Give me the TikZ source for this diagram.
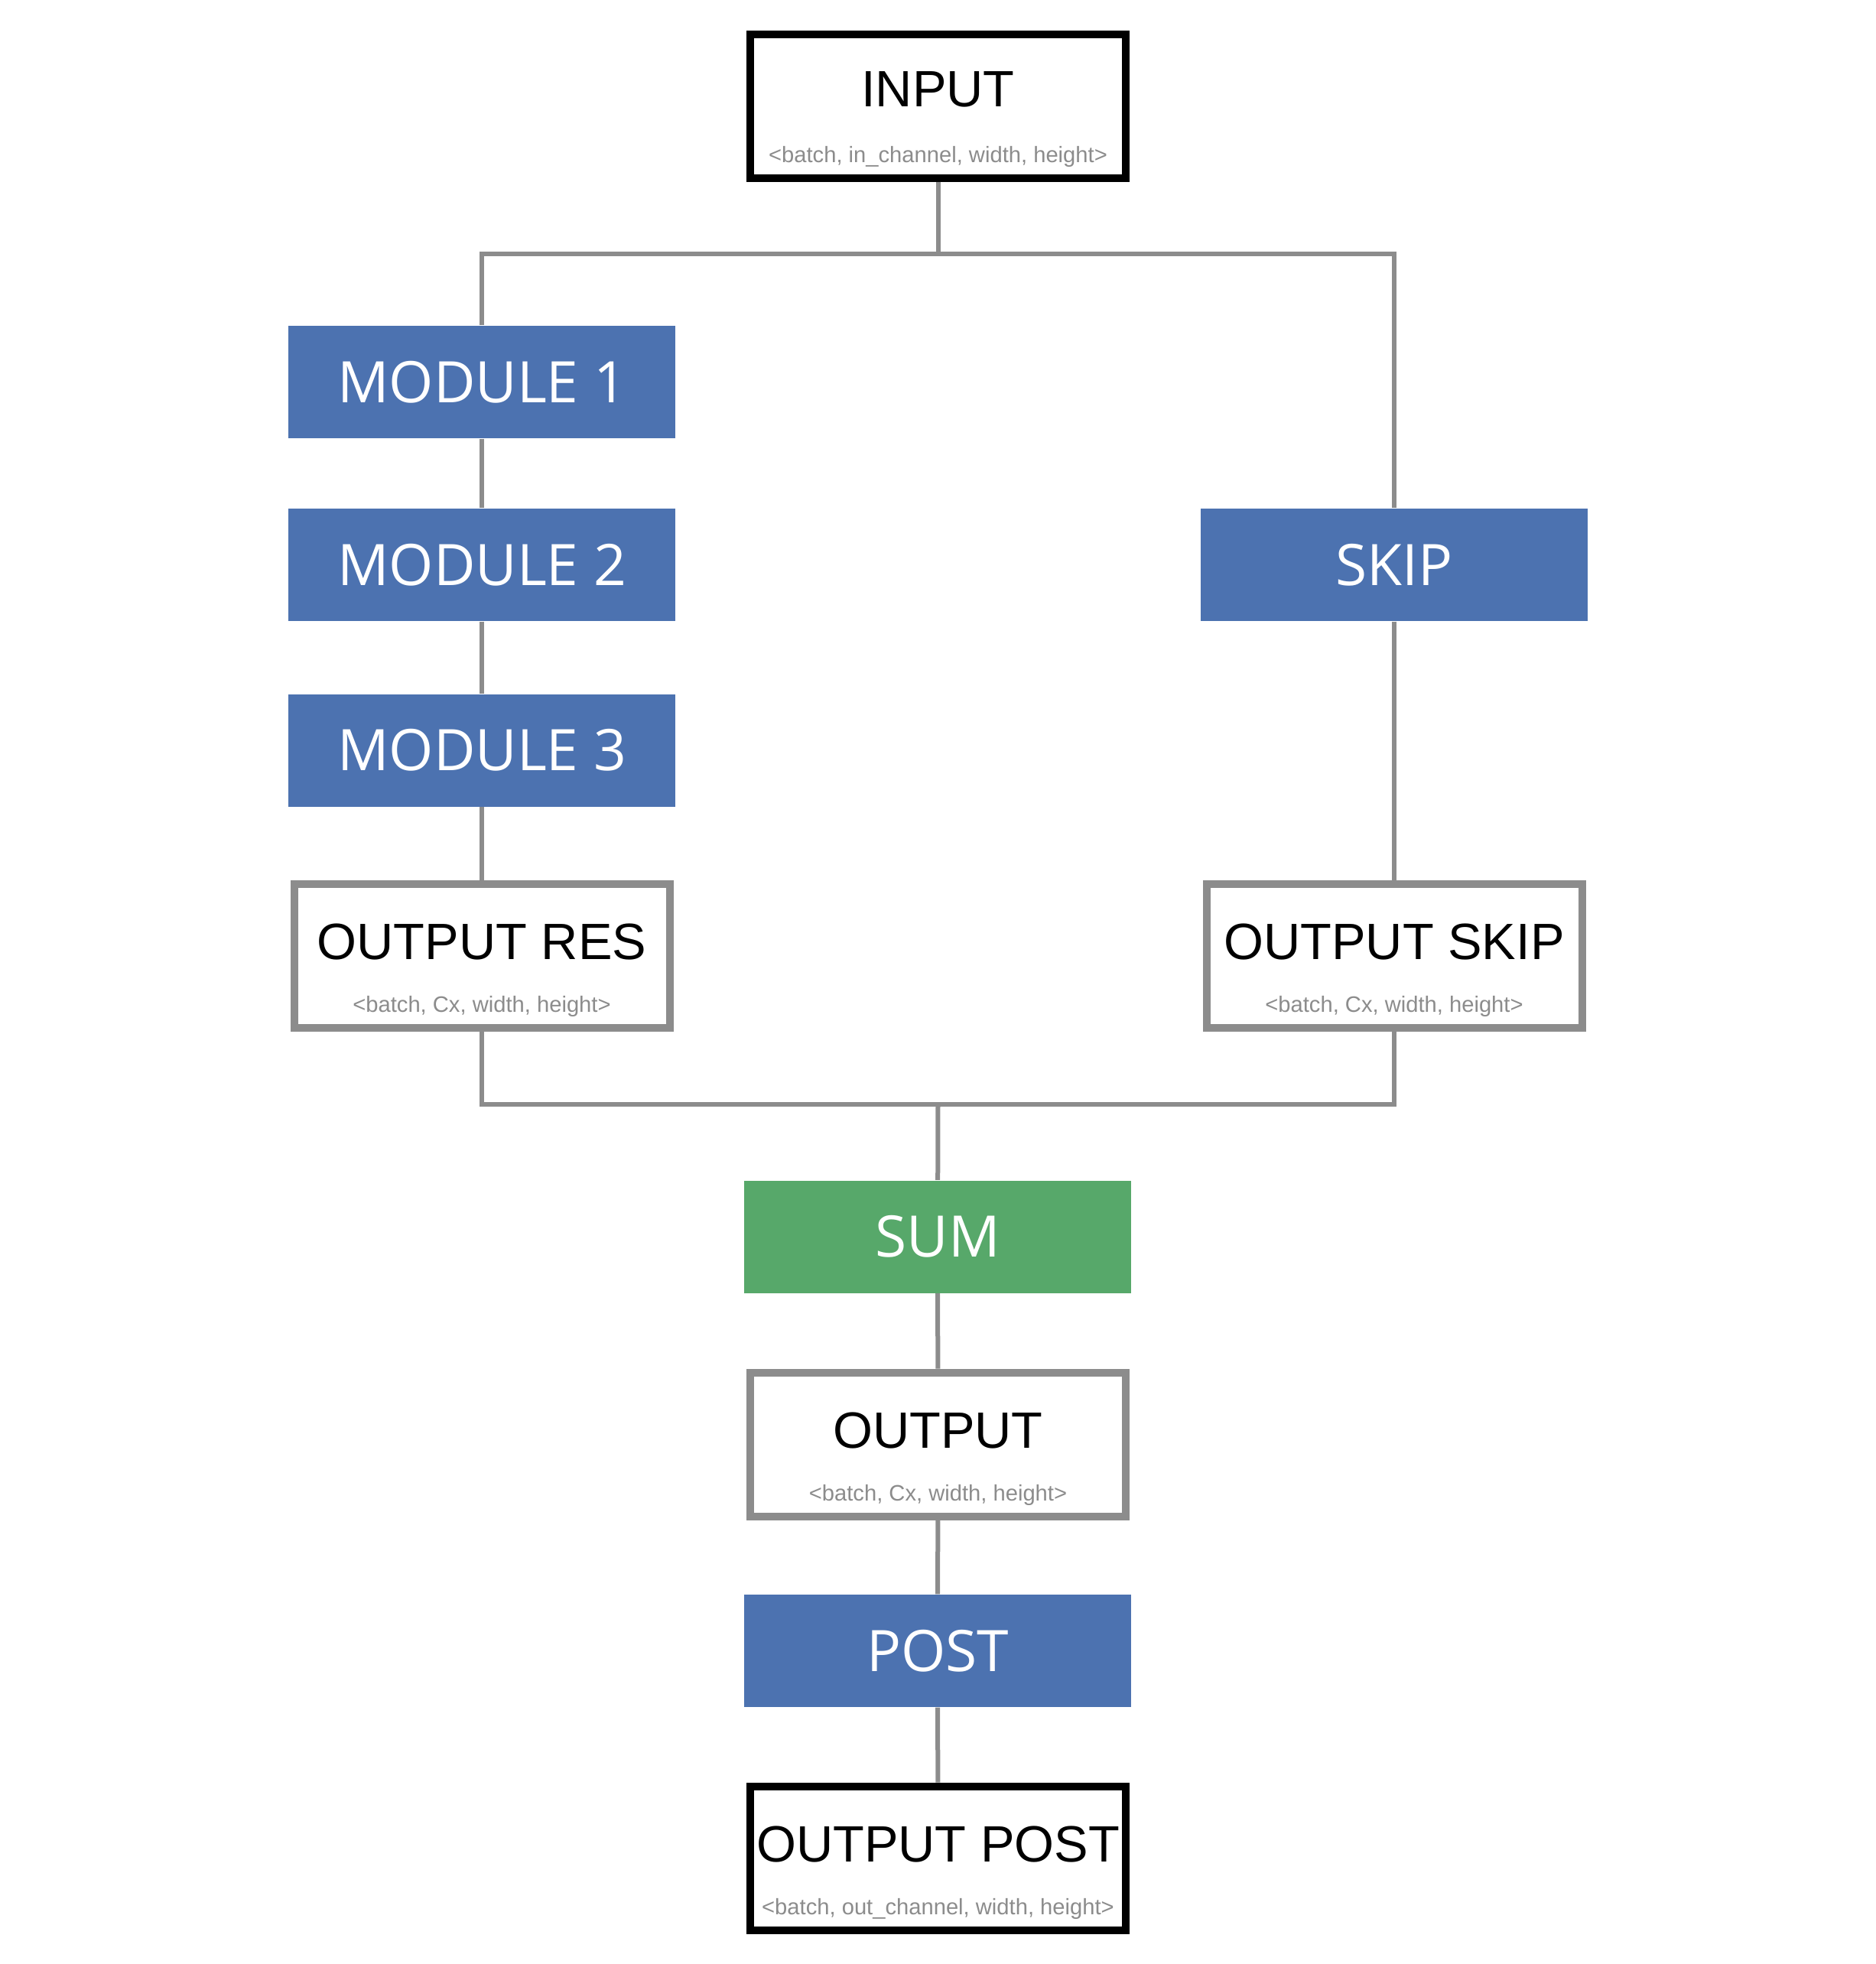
\documentclass[tikz,border=0pt]{standalone}
\usepackage{fontspec}
\setmainfont{Liberation Sans}
\newfontfamily\boxfont{Open Sans}
\definecolor{modblue}{HTML}{4C72B0}
\definecolor{sumgreen}{HTML}{57A86A}
\definecolor{wiregray}{HTML}{8C8C8C}

\begin{document}
\begin{tikzpicture}[
    wire/.style={draw=wiregray, line width=0.6mm},
    block/.style={fill=#1, text=white, minimum width=5.06cm, minimum height=1.47cm, inner sep=0pt, font=\boxfont\fontsize{21.3}{25}\selectfont},
    tensor/.style={draw=#1, fill=white, line width=1mm, minimum width=4.91cm, minimum height=1.88cm, inner sep=0pt},
    tname/.style={anchor=base, font=\fontsize{19}{23}\selectfont},
    dims/.style={anchor=base, text=wiregray, font=\fontsize{8.3}{10}\selectfont}
]
    \useasboundingbox (0,0) rectangle (24.53,-25.68);

    % input
    \node[tensor=black] (input) at (12.265,-1.385) {};
    \node[tname] (inputT) at ([yshift=-1.0cm]input.north) {INPUT};
    \node[dims] (inputS) at ([yshift=-1.73cm]input.north) {<batch, in\_channel, width, height>};

    % residual branch
    \node[block=modblue] (mod1) at (6.30,-4.995) {MODULE 1};
    \node[block=modblue] (mod2) at (6.30,-7.385) {MODULE 2};
    \node[block=modblue] (mod3) at (6.30,-9.81) {MODULE 3};
    \node[tensor=wiregray] (res) at (6.30,-12.495) {};
    \node[tname] (resT) at ([yshift=-1.04cm]res.north) {OUTPUT RES};
    \node[dims] (resS) at ([yshift=-1.73cm]res.north) {<batch, Cx, width, height>};

    % skip branch
    \node[block=modblue] (skip) at (18.23,-7.385) {SKIP};
    \node[tensor=wiregray] (skipout) at (18.23,-12.495) {};
    \node[tname] (skipoutT) at ([yshift=-1.04cm]skipout.north) {OUTPUT SKIP};
    \node[dims] (skipoutS) at ([yshift=-1.73cm]skipout.north) {<batch, Cx, width, height>};

    % merge
    \node[block=sumgreen] (sum) at (12.26,-16.17) {SUM};
    \node[tensor=wiregray] (out) at (12.265,-18.885) {};
    \node[tname] (outT) at ([yshift=-1.04cm]out.north) {OUTPUT};
    \node[dims] (outS) at ([yshift=-1.73cm]out.north) {<batch, Cx, width, height>};
    \node[block=modblue] (post) at (12.26,-21.585) {POST};
    \node[tensor=black] (outpost) at (12.265,-24.295) {};
    \node[tname] (outpostT) at ([yshift=-1.04cm]outpost.north) {OUTPUT POST};
    \node[dims] (outpostS) at ([yshift=-1.73cm]outpost.north) {<batch, out\_channel, width, height>};

    \coordinate (split) at (12.265,-3.32);
    \coordinate (merge) at (12.265,-14.44);

    \draw[wire] (input) -- (split);
    \draw[wire] (mod1) |- (split) -| (skip);
    \draw[wire] (mod1) -- (mod2);
    \draw[wire] (mod2) -- (mod3);
    \draw[wire] (mod3) -- (res);
    \draw[wire] (skip) -- (skipout);
    \draw[wire] (res) |- (merge) -| (skipout);
    \draw[wire] (merge) -- (sum);
    \draw[wire] (sum) -- (out);
    \draw[wire] (out) -- (post);
    \draw[wire] (post) -- (outpost);
\end{tikzpicture}
\end{document}
